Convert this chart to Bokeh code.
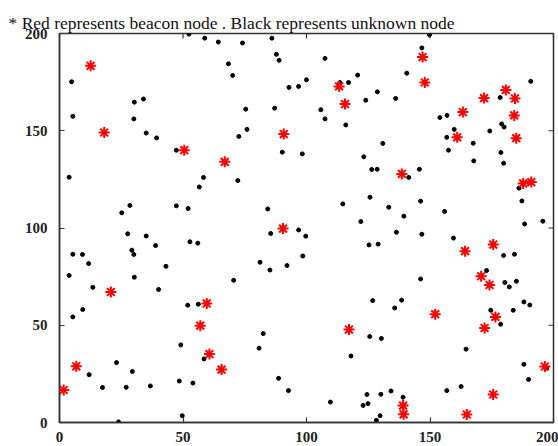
import math
from bokeh.plotting import figure
from bokeh.models import LinearAxis, FixedTicker, Range1d, Title
from bokeh.embed import file_html
from bokeh.resources import INLINE

# Beacon (anchor) node positions
beacon_x = [12.6, 18.1, 50.5, 113.2, 115.6, 90.8, 66.9, 147.0, 147.9, 180.7,
            171.9, 184.4, 163.3, 184.1, 161.0, 184.9, 20.8, 90.5, 138.6, 187.7,
            191.0, 175.6, 164.2, 170.7, 174.1, 59.6, 57.0, 60.7, 6.8, 1.7,
            65.6, 117.2, 152.1, 176.5, 172.1, 196.5, 175.6, 139.1, 139.3, 164.9]
beacon_y = [183.4, 149.1, 140.0, 172.8, 163.7, 148.3, 134.0, 187.9, 174.8, 171.0,
            166.8, 166.6, 159.6, 157.9, 146.6, 146.2, 67.1, 99.7, 127.8, 122.9,
            123.6, 91.5, 88.1, 75.2, 70.7, 61.2, 49.8, 35.2, 28.9, 16.7,
            27.2, 47.8, 55.7, 54.3, 48.6, 28.8, 14.4, 8.7, 4.2, 4.1]

# Unknown node positions
unknown_x = [52.4, 58.8, 64.3, 4.9, 34.0, 30.3, 5.4, 30.1, 35.1, 39.3,
             47.3, 74.1, 86.0, 87.8, 88.9, 68.4, 70.1, 107.5, 100.0, 96.8,
             92.9, 120.7, 113.5, 117.0, 128.7, 124.0, 75.4, 87.1, 105.8, 107.5,
             115.9, 75.9, 72.6, 90.2, 98.3, 123.2, 149.8, 146.7, 140.6, 190.8,
             136.1, 178.4, 154.0, 156.9, 159.8, 179.0, 180.0, 174.2, 156.8, 130.9,
             167.5, 157.5, 178.7, 167.7, 179.8, 3.9, 58.3, 56.6, 28.5, 25.2,
             47.3, 52.1, 27.6, 35.1, 38.9, 52.8, 56.0, 5.4, 9.3, 29.3,
             30.1, 11.8, 3.9, 30.3, 43.1, 13.5, 40.1, 72.2, 126.4, 128.6,
             125.7, 114.7, 84.3, 122.0, 85.5, 96.8, 99.7, 125.3, 129.0, 98.5,
             81.2, 85.2, 92.1, 70.5, 126.8, 141.4, 145.7, 186.0, 187.2, 133.3,
             146.2, 139.4, 155.9, 188.3, 195.7, 136.4, 146.7, 159.5, 179.8, 184.2,
             172.9, 146.2, 180.3, 182.1, 185.0, 138.5, 51.9, 56.2, 9.4, 5.4,
             49.1, 58.5, 23.1, 29.5, 12.0, 17.4, 27.0, 36.8, 48.5, 54.0,
             49.7, 23.9, 82.5, 80.8, 125.6, 118.0, 88.7, 92.7, 109.7, 124.5,
             122.9, 124.9, 128.3, 129.8, 135.7, 174.6, 178.6, 188.0, 190.4, 183.7,
             130.3, 164.6, 188.0, 197.2, 189.9, 134.2, 130.1, 139.1, 156.8, 162.6]
unknown_y = [199.7, 197.6, 195.6, 175.2, 166.3, 164.7, 157.4, 156.1, 148.8, 146.3,
             140.0, 195.1, 197.6, 189.3, 186.2, 184.4, 178.4, 187.2, 176.2, 172.8,
             172.3, 178.6, 174.8, 174.8, 170.0, 165.7, 161.1, 161.6, 160.8, 156.1,
             153.0, 150.7, 147.1, 139.0, 138.1, 136.6, 199.3, 192.6, 179.6, 175.4,
             166.6, 167.1, 156.8, 157.9, 150.7, 153.5, 151.9, 149.9, 146.6, 143.5,
             143.6, 140.0, 138.8, 134.5, 133.3, 126.1, 126.0, 121.1, 111.6, 107.8,
             111.4, 110.0, 97.0, 95.9, 91.0, 92.9, 92.2, 86.5, 86.4, 88.6,
             86.4, 81.7, 75.6, 74.7, 80.3, 69.5, 68.4, 124.4, 130.1, 130.2,
             115.8, 112.4, 109.8, 103.3, 97.2, 99.0, 95.8, 91.3, 91.7, 85.6,
             82.4, 78.4, 80.7, 73.1, 62.7, 126.0, 130.2, 120.5, 113.9, 110.7,
             113.8, 106.1, 108.5, 102.1, 103.5, 97.8, 96.8, 94.8, 85.9, 86.5,
             78.1, 73.8, 72.0, 69.7, 72.6, 62.9, 60.3, 60.8, 58.1, 54.3,
             39.9, 32.7, 30.8, 26.2, 24.6, 18.0, 18.1, 18.8, 21.3, 20.3,
             3.5, 0.3, 45.7, 38.2, 44.2, 34.2, 22.7, 16.4, 10.5, 14.4,
             8.8, 9.7, 1.1, 3.5, 58.9, 57.7, 50.5, 62.0, 60.4, 57.7,
             43.2, 37.7, 29.9, 28.0, 22.1, 16.2, 14.5, 13.0, 16.4, 18.5]

tick_values = [0, 50, 100, 150, 200]
AXIS_MIN, AXIS_MAX = 0, 200

FONT = "Liberation Serif"
FRAME = "#333333"
TICK_LEN = 5

p = figure(width=558, height=446, output_backend="svg", toolbar_location=None,
           x_range=Range1d(AXIS_MIN, AXIS_MAX), y_range=Range1d(AXIS_MIN, AXIS_MAX),
           min_border_left=59, min_border_right=5, min_border_top=33, min_border_bottom=24,
           x_axis_location=None, y_axis_location=None)
p.grid.visible = False
p.outline_line_color = FRAME
p.outline_line_width = 1.5
p.background_fill_color = "white"
p.border_fill_color = "white"

def make_axis(standoff):
    ax = LinearAxis(ticker=FixedTicker(ticks=tick_values))
    ax.axis_line_color = FRAME
    ax.axis_line_width = 1.5
    ax.major_tick_in = TICK_LEN
    ax.major_tick_out = 0
    ax.major_tick_line_color = FRAME
    ax.major_tick_line_width = 1.2
    ax.minor_tick_line_color = None
    ax.major_label_text_font = FONT
    ax.major_label_text_font_style = "bold"
    ax.major_label_text_font_size = "15px"
    ax.major_label_text_color = "#222222"
    ax.major_label_standoff = standoff
    return ax

bottom = make_axis(9)
bottom.major_label_text_line_height = 0.8
p.add_layout(bottom, "below")
p.add_layout(make_axis(12), "left")

# mirrored inward ticks on the top and right edges of the frame
p.ray(x=tick_values, y=[AXIS_MAX] * len(tick_values), length=TICK_LEN,
      length_units="screen", angle=-math.pi / 2, line_color=FRAME, line_width=1.2)
p.ray(x=[AXIS_MAX] * len(tick_values), y=tick_values, length=TICK_LEN,
      length_units="screen", angle=math.pi, line_color=FRAME, line_width=1.2)

title = Title(text="* Red represents beacon node . Black represents unknown node",
              text_font=FONT, text_font_style="normal", text_font_size="17.5px",
              text_color="#111111", align="left", offset=-51, standoff=2)
p.add_layout(title, "above")

# unknown nodes: small black dots
p.scatter(unknown_x, unknown_y, marker="circle", size=4, color="black")
# beacon nodes: red asterisks
p.scatter(beacon_x, beacon_y, marker="asterisk", size=11, line_color="red", line_width=2)

open("out.html", "w").write(file_html(p, INLINE))
